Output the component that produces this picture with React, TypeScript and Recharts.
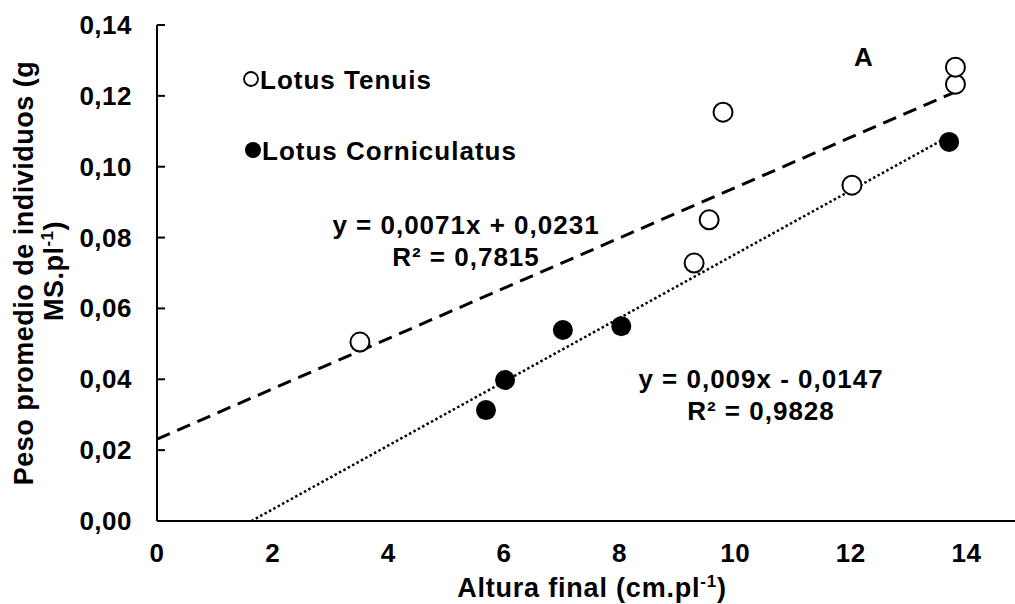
import React from "react";
import { ComposedChart, Scatter, XAxis, YAxis, Customized } from "recharts";

// ---- data ----
const tenuisX = [3.51, 9.29, 9.55, 9.79, 12.02, 13.81, 13.81];
const tenuisY = [0.0505, 0.0728, 0.085, 0.1154, 0.0948, 0.1233, 0.1281];
const cornX = [5.69, 6.02, 7.02, 8.03, 13.7];
const cornY = [0.0313, 0.0398, 0.0539, 0.055, 0.107];

const trendSlopes = [0.0071, 0.009];
const trendIntercepts = [0.0231, -0.0147];

const xTicks = [0, 2, 4, 6, 8, 10, 12, 14];
const yTicks = [0, 0.02, 0.04, 0.06, 0.08, 0.1, 0.12, 0.14];

const seriesNames = ["Lotus Tenuis", "Lotus Corniculatus"];
const equationLines = [
  ["y = 0,0071x + 0,0231", "R² = 0,7815"],
  ["y = 0,009x - 0,0147", "R² = 0,9828"],
];
const panelLetter = "A";
const yLabelLines = ["Peso promedio de individuos (g", "MS.pl"];
const xLabel = "Altura final (cm.pl";

// ---- derived tables ----
const tenuisData = tenuisX.map((x, i) => ({ x, y: tenuisY[i] }));
const cornData = cornX.map((x, i) => ({ x, y: cornY[i] }));
const tenuisMax = Math.max(...tenuisX);
const cornMax = Math.max(...cornX);
const trendTenuis = [0, tenuisMax].map((x) => ({ x, y: trendSlopes[0] * x + trendIntercepts[0] }));
const cornStart = -trendIntercepts[1] / trendSlopes[1];
const trendCorn = [cornStart, cornMax].map((x) => ({ x, y: trendSlopes[1] * x + trendIntercepts[1] }));

const FONT = "'Liberation Sans', Arial, sans-serif";
const fmt = (v: number) => v.toFixed(2).replace(".", ",");

const tickStyle: React.CSSProperties = { letterSpacing: "0.5px" };
const annStyle: React.CSSProperties = { letterSpacing: "1px" };

const XTick = (props: any) => {
  const { x, y, payload } = props;
  return (
    <text x={x} y={y + 41} textAnchor="middle" fontFamily={FONT} fontWeight="bold" fontSize={26} fill="#000" style={tickStyle}>
      {String(payload.value)}
    </text>
  );
};

const YTick = (props: any) => {
  const { x, y, payload } = props;
  return (
    <g>
      <line x1={x} x2={x + 8} y1={y} y2={y} stroke="#000" strokeWidth={2} />
      <text x={x - 25} y={y + 9} textAnchor="end" fontFamily={FONT} fontWeight="bold" fontSize={26} fill="#000" style={tickStyle}>
        {fmt(payload.value)}
      </text>
    </g>
  );
};

const Annotations = () => (
  <g fontFamily={FONT} fontWeight="bold" fill="#000">
    {/* legend */}
    <circle cx={251} cy={79} r={7} fill="#fff" stroke="#000" strokeWidth={1.8} />
    <text x={260} y={88.5} fontSize={26} style={annStyle}>{seriesNames[0]}</text>
    <circle cx={253} cy={150} r={8} fill="#000" />
    <text x={262} y={159.5} fontSize={26} style={annStyle}>{seriesNames[1]}</text>
    {/* panel letter */}
    <text x={864} y={65.5} fontSize={26} textAnchor="middle" style={annStyle}>{panelLetter}</text>
    {/* equations */}
    <text x={466} y={233.5} fontSize={26} textAnchor="middle" style={annStyle}>{equationLines[0][0]}</text>
    <text x={466} y={265.5} fontSize={26} textAnchor="middle" style={annStyle}>{equationLines[0][1]}</text>
    <text x={761} y={387.5} fontSize={26} textAnchor="middle" style={annStyle}>{equationLines[1][0]}</text>
    <text x={761} y={419.5} fontSize={26} textAnchor="middle" style={annStyle}>{equationLines[1][1]}</text>
    {/* y label */}
    <g transform="translate(33,273) rotate(-90)">
      <text x={0} y={0} fontSize={27} textAnchor="middle" style={{ letterSpacing: "0.5px" }}>{yLabelLines[0]}</text>
    </g>
    <g transform="translate(63,271) rotate(-90)">
      <text x={0} y={0} fontSize={27} textAnchor="middle" style={{ letterSpacing: "0.5px" }}>
        {yLabelLines[1]}
        <tspan fontSize={17} dy={-10}>-1</tspan>
        <tspan dy={10}>)</tspan>
      </text>
    </g>
    {/* x label */}
    <text x={592} y={597} fontSize={27} textAnchor="middle" style={{ letterSpacing: "0.8px" }}>
      {xLabel}
      <tspan fontSize={17} dy={-10}>-1</tspan>
      <tspan dy={10}>)</tspan>
    </text>
  </g>
);

const OpenCircle = (p: any) => (
  <circle cx={p.cx} cy={p.cy} r={9.5} fill="#fff" stroke="#000" strokeWidth={2} />
);
const FilledCircle = (p: any) => <circle cx={p.cx} cy={p.cy} r={10} fill="#000" />;
const NoShape = () => <g />;

export default function App() {
  return (
    <div style={{ position: "absolute", left: 0, top: 0, width: 1015, height: 604, background: "#fff" }}>
      <ComposedChart width={1015} height={604} margin={{ top: 25, right: 0, bottom: 0, left: 0 }}>
        <XAxis
          type="number"
          dataKey="x"
          domain={[0, 14.84]}
          ticks={xTicks}
          allowDataOverflow
          height={83}
          axisLine={{ stroke: "#000", strokeWidth: 2 }}
          tickLine={false}
          tickSize={0}
          tickMargin={0}
          tick={<XTick />}
          interval={0}
        />
        <YAxis
          type="number"
          dataKey="y"
          domain={[0, 0.14]}
          ticks={yTicks}
          allowDataOverflow
          width={157}
          axisLine={{ stroke: "#000", strokeWidth: 2 }}
          tickLine={false}
          tickSize={0}
          tickMargin={0}
          tick={<YTick />}
          interval={0}
        />
        <Scatter
          data={trendTenuis}
          line={{ stroke: "#000", strokeWidth: 3, strokeDasharray: "14 8" }}
          shape={<NoShape />}
          isAnimationActive={false}
        />
        <Scatter
          data={trendCorn}
          line={{ stroke: "#000", strokeWidth: 2.5, strokeDasharray: "2.5 2.5" }}
          shape={<NoShape />}
          isAnimationActive={false}
        />
        <Scatter data={tenuisData} shape={<OpenCircle />} isAnimationActive={false} />
        <Scatter data={cornData} shape={<FilledCircle />} isAnimationActive={false} />
        <Customized component={<Annotations />} />
      </ComposedChart>
    </div>
  );
}
